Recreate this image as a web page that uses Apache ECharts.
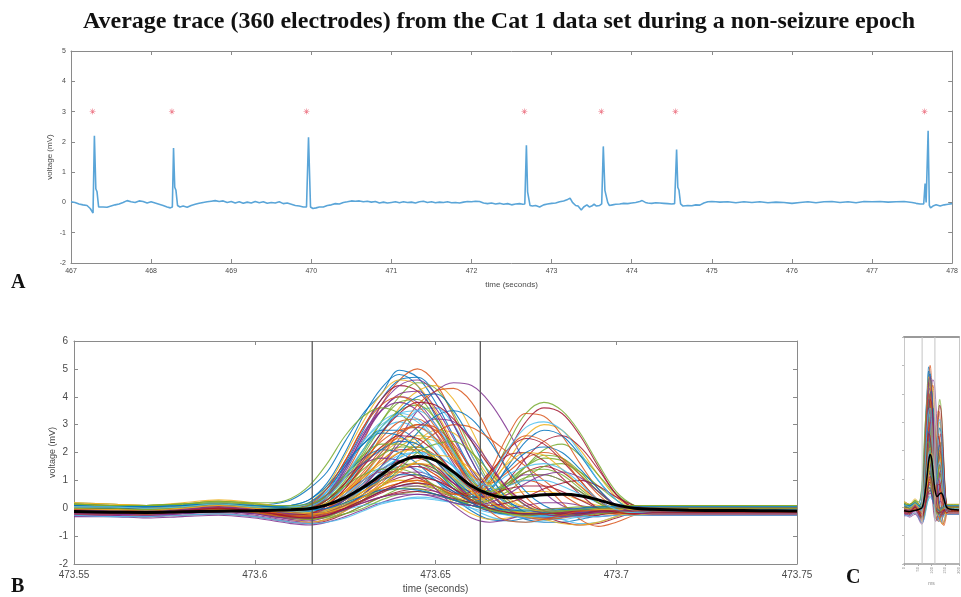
<!DOCTYPE html>
<html>
<head>
<meta charset="utf-8">
<script src="https://cdn.jsdelivr.net/npm/echarts@6/dist/echarts.min.js"></script>
<style>
  html, body { margin: 0; padding: 0; background: #fff; }
  #chart { width: 961px; height: 597px; }
</style>
</head>
<body>
<div id="chart"></div>
<script>
// ---- Panel A: averaged trace over 11 s, [time (s), voltage (mV)] ----
const traceA = [
  [467.00,0.02],[467.05,0.00],[467.10,-0.05],[467.15,-0.08],[467.20,-0.10],[467.24,-0.20],[467.26,-0.25],[467.275,-0.35],
  [467.292,2.20],[467.31,0.45],[467.325,0.35],[467.345,-0.15],[467.40,-0.15],[467.45,-0.16],[467.50,-0.12],[467.55,-0.08],
  [467.60,-0.05],[467.65,0.00],[467.70,0.06],[467.75,0.02],[467.80,0.00],[467.85,0.05],[467.90,0.03],[467.95,-0.02],
  [468.00,0.02],[468.05,-0.02],[468.10,-0.06],[468.15,-0.10],[468.20,-0.15],[468.24,-0.18],[468.265,-0.15],[468.28,1.80],
  [468.295,0.50],[468.31,0.40],[468.33,-0.10],[468.36,-0.15],[468.40,-0.12],[468.45,-0.16],[468.50,-0.10],[468.55,-0.06],
  [468.60,-0.03],[468.65,0.00],[468.70,0.02],[468.75,0.04],[468.80,0.06],[468.85,0.03],[468.90,0.05],[468.95,0.00],
  [469.00,0.03],[469.05,-0.02],[469.10,0.02],[469.15,-0.03],[469.20,0.01],[469.25,-0.02],[469.30,0.03],[469.35,-0.01],
  [469.40,0.02],[469.45,-0.03],[469.50,0.00],[469.55,-0.02],[469.60,0.02],[469.65,-0.04],[469.70,-0.02],[469.75,-0.06],
  [469.80,-0.10],[469.85,-0.12],[469.90,-0.15],[469.94,-0.15],[469.965,2.15],[469.99,-0.15],[470.02,-0.20],[470.06,-0.18],
  [470.10,-0.15],[470.15,-0.15],[470.20,-0.10],[470.25,-0.08],[470.30,-0.04],[470.35,-0.05],[470.40,0.00],[470.45,0.02],
  [470.50,0.05],[470.55,0.04],[470.60,0.05],[470.65,0.02],[470.70,0.04],[470.75,0.01],[470.80,0.03],[470.85,-0.02],
  [470.90,0.01],[470.95,-0.02],[471.00,0.00],[471.05,0.02],[471.10,-0.01],[471.15,0.02],[471.20,0.00],[471.25,0.01],
  [471.30,-0.02],[471.35,0.02],[471.40,0.04],[471.45,0.00],[471.50,0.02],[471.55,-0.01],[471.60,0.01],[471.65,0.00],
  [471.70,0.02],[471.75,-0.01],[471.80,0.00],[471.85,-0.02],[471.90,0.01],[471.95,0.03],[472.00,0.02],[472.05,0.04],
  [472.10,0.03],[472.15,-0.02],[472.20,-0.04],[472.25,-0.02],[472.30,-0.05],[472.35,-0.03],[472.40,-0.06],[472.45,-0.04],
  [472.50,-0.08],[472.55,-0.05],[472.60,-0.04],[472.64,-0.06],[472.665,-0.05],[472.685,1.89],[472.70,0.35],[472.715,0.30],
  [472.73,-0.10],[472.76,-0.12],[472.80,-0.10],[472.85,-0.15],[472.90,-0.08],[472.95,-0.05],[473.00,-0.03],[473.05,-0.02],
  [473.10,0.02],[473.15,0.05],[473.20,0.10],[473.23,0.14],[473.26,0.00],[473.30,-0.10],[473.33,-0.12],[473.37,-0.25],
  [473.40,-0.15],[473.44,-0.08],[473.47,-0.15],[473.50,-0.12],[473.53,-0.06],[473.56,-0.12],[473.60,-0.10],[473.625,-0.05],
  [473.645,1.85],[473.665,0.40],[473.68,0.45],[473.70,0.00],[473.72,-0.10],[473.76,-0.08],[473.80,-0.06],[473.85,-0.05],
  [473.90,-0.03],[473.95,-0.04],[474.00,-0.02],[474.05,0.00],[474.10,0.03],[474.13,0.06],[474.17,0.00],[474.20,-0.02],
  [474.25,-0.03],[474.30,-0.01],[474.35,-0.02],[474.40,-0.03],[474.45,-0.04],[474.50,-0.05],[474.535,-0.04],[474.56,1.75],
  [474.575,0.50],[474.59,0.40],[474.61,-0.05],[474.64,-0.12],[474.70,-0.10],[474.75,-0.11],[474.80,-0.08],[474.85,-0.09],
  [474.90,-0.02],[474.95,0.02],[475.00,0.03],[475.05,0.02],[475.10,0.01],[475.20,0.02],[475.30,-0.01],[475.40,0.02],
  [475.50,0.00],[475.60,0.02],[475.70,-0.01],[475.80,0.01],[475.90,0.00],[476.00,-0.03],[476.10,0.00],[476.20,0.02],
  [476.30,-0.01],[476.40,0.02],[476.50,0.03],[476.60,0.00],[476.70,0.02],[476.80,-0.01],[476.90,0.03],[477.00,0.02],
  [477.10,0.03],[477.20,0.01],[477.30,0.02],[477.40,0.03],[477.50,0.00],[477.55,-0.03],[477.60,-0.05],[477.645,-0.05],
  [477.662,0.62],[477.675,0.00],[477.688,0.00],[477.70,2.37],[477.715,-0.10],[477.73,-0.18],[477.76,-0.12],[477.80,-0.08],
  [477.85,-0.12],[477.90,-0.08],[477.95,-0.06],[478.00,-0.04]
];
// Detected events (red asterisks) shown at 3 mV
const eventTimesA = [467.27, 468.26, 469.94, 472.66, 473.62, 474.545, 477.655];
const eventLevelA = 3;

// ---- Panels B and C: per-electrode traces around one event ----
const timeB = [473.55,473.56,473.57,473.58,473.59,473.60,473.605,473.61,473.615,473.62,473.625,473.63,473.635,473.64,473.645,473.65,
               473.655,473.66,473.665,473.67,473.675,473.68,473.685,473.69,473.695,473.70,473.705,473.71,473.72,473.73,473.74,473.75];
const meanTrace = [-0.12,-0.14,-0.15,-0.13,-0.11,-0.09,-0.07,-0.05,-0.02,0.12,0.38,0.75,1.2,1.65,1.86,1.72,
                   1.3,0.8,0.5,0.38,0.42,0.48,0.5,0.45,0.3,0.12,0.0,-0.04,-0.07,-0.08,-0.09,-0.1];
const windowEdges = [473.6159, 473.6624];
const electrodeTraces = [
  [0.10,0.05,0.00,0.10,0.15,0.10,0.15,0.30,0.70,1.30,2.40,3.40,4.10,4.95,4.70,3.80,2.60,1.40,0.60,0.20,0.00,-0.10,-0.15,-0.15,-0.10,-0.05,0.00,0.05,0.05,0.00,0.00,0.00],
  [-0.05,-0.10,-0.15,-0.05,0.05,-0.05,-0.10,-0.10,0.00,0.40,1.20,2.40,3.70,4.60,5.00,4.50,3.30,1.90,0.80,0.10,-0.20,-0.30,-0.25,-0.20,-0.15,-0.10,-0.05,0.00,0.00,-0.05,-0.05,-0.05],
  [-0.20,-0.20,-0.25,-0.15,-0.10,-0.20,-0.30,-0.35,-0.30,0.00,0.60,1.50,2.60,3.60,4.20,4.40,3.90,2.80,1.50,0.60,0.10,-0.10,-0.20,-0.20,-0.15,-0.10,-0.10,-0.10,-0.10,-0.10,-0.10,-0.10],
  [0.00,-0.05,-0.10,0.00,0.10,0.00,-0.10,-0.20,-0.20,0.00,0.30,0.80,1.50,2.50,3.50,4.20,4.50,4.40,3.80,2.80,1.60,0.60,0.10,-0.10,-0.15,-0.10,-0.05,0.00,0.00,0.00,0.00,0.00],
  [-0.10,-0.15,-0.20,-0.10,0.00,-0.10,-0.20,-0.30,-0.30,-0.10,0.20,0.60,1.10,1.50,1.60,1.30,0.80,0.30,1.00,2.30,3.40,3.80,3.50,2.70,1.60,0.60,0.10,-0.10,-0.10,-0.10,-0.10,-0.10],
  [0.20,0.15,0.10,0.15,0.25,0.15,0.10,0.05,0.10,0.50,1.20,2.10,2.80,3.10,2.80,2.10,1.20,0.50,0.00,-0.20,-0.30,-0.30,-0.20,-0.10,-0.05,0.00,0.05,0.05,0.05,0.05,0.05,0.05],
  [-0.25,-0.25,-0.30,-0.25,-0.20,-0.30,-0.40,-0.50,-0.55,-0.45,-0.20,0.10,0.40,0.60,0.70,0.60,0.40,0.20,0.30,0.80,1.30,1.50,1.30,0.80,0.30,-0.05,-0.20,-0.25,-0.25,-0.25,-0.25,-0.25],
  [0.05,0.00,-0.05,0.05,0.15,0.05,0.00,-0.05,0.10,0.60,1.60,2.80,3.90,4.60,4.70,4.10,3.00,1.70,0.60,-0.10,-0.40,-0.50,-0.50,-0.40,-0.25,-0.10,0.00,0.05,0.05,0.00,0.00,0.00],
  [-0.15,-0.20,-0.20,-0.10,-0.05,-0.15,-0.25,-0.35,-0.40,-0.20,0.20,0.80,1.50,2.00,2.20,1.90,1.30,0.70,0.20,-0.10,-0.20,-0.20,-0.15,-0.10,-0.10,-0.10,-0.10,-0.10,-0.10,-0.10,-0.10,-0.10],
  [0.00,-0.05,-0.10,0.00,0.10,0.00,-0.05,-0.10,-0.05,0.30,0.90,1.60,2.20,2.50,2.30,1.70,1.00,0.50,0.80,1.70,2.60,3.00,2.80,2.10,1.20,0.40,0.00,-0.10,-0.05,-0.05,-0.05,-0.05],
  [-0.10,-0.10,-0.15,-0.05,0.05,-0.05,-0.15,-0.20,-0.10,0.40,1.40,2.60,3.50,4.00,3.80,3.00,1.90,0.90,0.20,-0.20,-0.35,-0.40,-0.30,-0.20,-0.10,-0.05,-0.05,-0.05,-0.05,-0.05,-0.05,-0.05],
  [0.10,0.05,0.00,0.05,0.15,0.05,0.00,-0.10,-0.20,-0.30,-0.20,0.10,0.40,0.70,0.80,0.70,0.40,0.20,0.30,0.80,1.50,2.10,2.30,1.90,1.20,0.50,0.10,0.00,0.00,0.00,0.00,0.00],
  [-0.20,-0.15,-0.15,-0.10,0.00,-0.10,-0.20,-0.30,-0.30,-0.10,0.40,1.10,2.00,2.90,3.50,3.60,3.00,1.90,0.80,0.10,-0.20,-0.30,-0.30,-0.20,-0.15,-0.15,-0.15,-0.15,-0.15,-0.15,-0.15,-0.15],
  [0.15,0.10,0.05,0.10,0.20,0.10,0.05,0.00,-0.10,-0.10,0.10,0.40,0.80,1.10,1.20,1.00,0.60,0.20,-0.10,-0.20,-0.20,-0.30,-0.50,-0.60,-0.55,-0.35,-0.15,0.00,0.05,0.05,0.05,0.05],
  [-0.05,-0.05,-0.10,0.00,0.10,0.05,0.05,0.10,0.30,0.90,2.00,3.30,4.30,4.80,4.40,3.30,2.00,0.90,0.20,-0.15,-0.25,-0.25,-0.15,-0.10,-0.05,-0.05,-0.05,-0.05,-0.05,-0.05,-0.05,-0.05],
  [-0.20,-0.20,-0.25,-0.15,-0.05,-0.15,-0.25,-0.35,-0.40,-0.30,0.00,0.50,1.00,1.40,1.50,1.20,0.70,0.40,1.30,2.60,3.40,3.30,2.60,1.60,0.70,0.10,-0.15,-0.20,-0.20,-0.20,-0.20,-0.20],
  [0.00,0.00,-0.05,0.05,0.15,0.05,-0.05,-0.15,-0.20,-0.15,0.10,0.50,1.10,1.80,2.40,2.80,2.70,2.00,1.10,0.40,0.00,-0.20,-0.30,-0.25,-0.15,-0.05,0.00,0.00,0.00,0.00,0.00,0.00],
  [-0.30,-0.30,-0.35,-0.30,-0.25,-0.35,-0.45,-0.55,-0.60,-0.50,-0.30,-0.05,0.20,0.40,0.50,0.45,0.30,0.10,-0.10,-0.20,-0.20,-0.20,-0.25,-0.30,-0.30,-0.25,-0.25,-0.25,-0.25,-0.25,-0.25,-0.25],
  [0.10,0.05,0.05,0.10,0.20,0.10,0.05,0.00,0.05,0.40,1.10,2.10,3.10,3.80,3.90,3.20,2.10,1.00,0.60,1.00,1.50,1.80,1.70,1.20,0.60,0.10,-0.10,-0.10,-0.05,0.00,0.00,0.00],
  [-0.10,-0.10,-0.15,-0.05,0.05,-0.05,-0.15,-0.25,-0.30,-0.10,0.30,0.90,1.40,1.70,1.80,1.50,1.00,0.40,0.00,-0.20,-0.20,-0.25,-0.40,-0.55,-0.50,-0.30,-0.15,-0.10,-0.10,-0.10,-0.10,-0.10],
  [0.05,0.00,0.00,0.05,0.15,0.05,0.00,0.00,0.15,0.70,1.70,2.90,3.90,4.40,4.20,3.40,2.20,1.10,0.30,-0.10,-0.25,-0.25,-0.20,-0.10,-0.05,0.00,0.00,0.00,0.00,0.00,0.00,0.00],
  [-0.15,-0.15,-0.20,-0.10,0.00,-0.10,-0.20,-0.30,-0.35,-0.25,0.00,0.30,0.60,0.80,0.90,0.70,0.40,0.20,0.60,1.50,2.40,2.80,2.60,1.90,1.00,0.30,-0.10,-0.15,-0.15,-0.15,-0.15,-0.15],
  [-0.05,-0.10,-0.10,0.00,0.10,0.00,-0.10,-0.20,-0.20,0.10,0.70,1.60,2.50,3.10,3.20,2.70,1.80,0.90,0.30,-0.05,-0.20,-0.25,-0.20,-0.15,-0.10,-0.10,-0.10,-0.10,-0.05,-0.05,-0.05,-0.05],
  [0.20,0.15,0.10,0.20,0.30,0.20,0.10,0.00,0.00,0.20,0.60,1.20,1.90,2.40,2.60,2.50,2.00,1.20,0.50,0.10,-0.05,-0.10,-0.10,-0.05,0.00,0.05,0.10,0.10,0.10,0.10,0.10,0.10],
  [-0.25,-0.25,-0.30,-0.20,-0.15,-0.25,-0.35,-0.45,-0.50,-0.40,-0.10,0.30,0.80,1.20,1.30,1.10,0.70,0.40,0.50,0.90,1.20,1.20,1.00,0.60,0.20,-0.10,-0.20,-0.20,-0.20,-0.20,-0.20,-0.20],
  [0.00,-0.05,-0.05,0.05,0.15,0.05,-0.05,-0.10,-0.05,0.30,1.00,2.00,3.10,4.00,4.50,4.30,3.40,2.10,0.90,0.20,-0.15,-0.25,-0.25,-0.15,-0.10,-0.05,-0.05,-0.05,0.00,0.00,0.00,0.00],
  [0.05,0.05,0.00,0.05,0.10,0.05,0.00,-0.10,-0.15,-0.15,-0.05,0.10,0.20,0.30,0.35,0.30,0.20,0.10,0.00,-0.05,-0.05,-0.05,-0.05,-0.05,0.00,0.00,0.00,0.00,0.00,0.00,0.00,0.00],
  [0.00,0.00,-0.05,0.05,0.15,0.05,-0.05,-0.10,-0.10,0.10,0.50,1.10,1.70,2.10,2.10,1.70,1.00,0.40,0.90,2.00,3.10,3.60,3.40,2.60,1.50,0.50,0.00,-0.10,-0.05,-0.05,-0.05,-0.05],
  [-0.10,-0.10,-0.10,-0.05,0.05,0.00,-0.05,-0.10,0.00,0.50,1.20,1.80,2.10,2.00,1.60,1.00,0.40,-0.10,-0.40,-0.45,-0.35,-0.25,-0.15,-0.10,-0.05,-0.05,-0.05,-0.05,-0.05,-0.05,-0.05,-0.05],
  [0.05,0.00,0.00,0.05,0.15,0.05,0.00,-0.05,-0.05,0.20,0.60,1.30,2.10,2.70,3.00,2.80,2.10,1.20,0.90,1.30,1.80,2.00,1.80,1.20,0.50,0.00,-0.20,-0.15,-0.10,-0.05,-0.05,-0.05],
  [-0.20,-0.20,-0.25,-0.15,-0.05,-0.15,-0.25,-0.40,-0.50,-0.40,-0.10,0.30,0.70,0.90,1.00,0.70,0.20,-0.20,-0.40,-0.35,-0.20,-0.10,-0.10,-0.15,-0.20,-0.20,-0.20,-0.20,-0.20,-0.20,-0.20,-0.20],
  [-0.10,-0.10,-0.15,-0.05,0.05,-0.05,-0.10,-0.15,-0.05,0.40,1.30,2.50,3.50,4.10,4.20,3.60,2.50,1.30,0.40,-0.10,-0.30,-0.35,-0.30,-0.20,-0.10,-0.05,-0.05,-0.05,-0.05,-0.05,-0.05,-0.05],
  [0.15,0.10,0.10,0.15,0.25,0.15,0.05,-0.05,-0.10,-0.05,0.15,0.40,0.60,0.70,0.70,0.50,0.30,0.20,0.30,0.60,1.10,1.50,1.60,1.30,0.80,0.30,0.00,0.00,0.05,0.05,0.05,0.05],
  [0.00,-0.05,-0.05,0.00,0.10,0.00,-0.05,-0.05,0.10,0.60,1.40,2.40,3.10,3.40,3.20,2.50,1.50,0.60,0.00,-0.25,-0.35,-0.35,-0.25,-0.15,-0.05,0.00,0.00,0.00,0.00,0.00,0.00,0.00],
  [-0.05,-0.10,-0.10,-0.05,0.05,-0.05,-0.15,-0.20,-0.25,-0.10,0.20,0.60,1.10,1.40,1.60,1.40,0.90,0.60,1.20,2.10,2.50,2.30,1.70,1.00,0.30,-0.10,-0.20,-0.15,-0.10,-0.10,-0.10,-0.10],
  [0.10,0.05,0.05,0.10,0.20,0.10,0.05,0.00,0.00,0.30,0.90,1.60,2.10,2.40,2.30,1.80,1.10,0.50,0.10,-0.10,-0.15,-0.15,-0.10,-0.05,0.00,0.05,0.05,0.05,0.05,0.05,0.05,0.05],
  [-0.15,-0.15,-0.20,-0.10,0.00,-0.10,-0.20,-0.30,-0.30,-0.15,0.20,0.70,1.20,1.50,1.50,1.20,0.70,0.30,0.40,0.80,1.00,0.80,0.20,-0.40,-0.65,-0.50,-0.25,-0.10,-0.10,-0.10,-0.10,-0.10],
  [0.05,0.05,0.00,0.10,0.20,0.10,0.05,0.05,0.20,0.80,1.90,3.10,4.10,4.60,4.40,3.50,2.30,1.10,0.30,-0.10,-0.20,-0.20,-0.15,-0.10,-0.05,0.00,0.00,0.00,0.00,0.00,0.00,0.00],
  [-0.05,-0.05,-0.10,0.00,0.05,-0.05,-0.15,-0.25,-0.30,-0.20,0.00,0.30,0.60,0.80,0.80,0.60,0.30,0.10,0.00,0.00,0.10,0.20,0.20,0.10,0.00,-0.05,-0.05,-0.05,-0.05,-0.05,-0.05,-0.05],
  [-0.15,-0.15,-0.20,-0.10,0.00,-0.10,-0.20,-0.25,-0.20,0.20,0.90,1.90,2.90,3.50,3.70,3.20,2.10,1.00,0.50,0.80,1.10,1.20,1.00,0.60,0.20,-0.05,-0.15,-0.15,-0.15,-0.15,-0.15,-0.15],
  [0.10,0.05,0.05,0.10,0.15,0.05,0.00,-0.10,-0.15,-0.05,0.30,0.80,1.20,1.50,1.40,1.00,0.50,0.00,-0.30,-0.45,-0.50,-0.45,-0.30,-0.15,-0.05,0.00,0.05,0.05,0.05,0.05,0.05,0.05],
  [-0.20,-0.20,-0.20,-0.15,-0.05,-0.15,-0.25,-0.30,-0.30,-0.10,0.30,0.90,1.40,1.70,1.80,1.50,0.90,0.40,0.40,1.00,1.80,2.40,2.60,2.20,1.40,0.50,0.00,-0.15,-0.15,-0.15,-0.15,-0.15],
  [0.05,0.00,0.00,0.05,0.15,0.05,0.00,0.05,0.20,0.70,1.50,2.30,2.80,2.80,2.40,1.70,1.00,0.40,0.00,-0.15,-0.20,-0.15,-0.10,-0.05,0.00,0.00,0.00,0.00,0.00,0.00,0.00,0.00],
  [-0.10,-0.10,-0.15,-0.05,0.05,-0.05,-0.15,-0.20,-0.20,0.00,0.40,1.00,1.80,2.80,3.70,4.20,4.30,3.80,2.60,1.30,0.40,-0.10,-0.30,-0.30,-0.20,-0.10,-0.05,-0.05,-0.05,-0.05,-0.05,-0.05],
  [0.20,0.15,0.10,0.15,0.25,0.15,0.10,0.05,0.00,0.10,0.30,0.60,0.90,1.00,0.90,0.70,0.40,0.30,0.40,0.50,0.60,0.60,0.50,0.30,0.10,0.05,0.10,0.10,0.10,0.10,0.10,0.10],
  [-0.05,-0.05,-0.10,0.00,0.10,0.00,-0.05,-0.10,0.00,0.50,1.50,2.70,3.50,3.80,3.50,2.70,1.60,0.70,0.10,-0.20,-0.30,-0.30,-0.20,-0.10,-0.05,-0.05,-0.05,-0.05,-0.05,-0.05,-0.05,-0.05],
  [-0.10,-0.10,-0.15,-0.05,0.05,-0.05,-0.15,-0.25,-0.35,-0.35,-0.20,0.00,0.30,0.50,0.60,0.50,0.30,0.10,0.30,0.90,1.50,1.90,1.80,1.30,0.60,0.10,-0.10,-0.10,-0.10,-0.10,-0.10,-0.10],
  [0.00,-0.05,-0.05,0.00,0.10,0.00,-0.10,-0.20,-0.25,-0.10,0.20,0.70,1.30,1.80,2.00,1.90,1.50,0.90,0.30,-0.10,-0.30,-0.40,-0.40,-0.30,-0.15,-0.05,0.00,0.00,0.00,0.00,0.00,0.00],
  [0.05,0.05,0.00,0.05,0.15,0.05,0.00,-0.05,-0.05,0.20,0.60,1.00,1.30,1.30,1.10,0.80,0.50,0.60,1.30,1.90,2.00,1.70,1.10,0.50,0.00,-0.20,-0.20,-0.10,-0.05,-0.05,-0.05,-0.05],
  [0.00,-0.05,-0.10,0.00,0.10,0.00,-0.10,-0.20,-0.25,-0.15,0.10,0.50,1.10,1.90,2.70,3.30,3.50,3.20,2.40,1.40,0.60,0.10,-0.15,-0.20,-0.15,-0.10,-0.05,-0.05,-0.05,-0.05,-0.05,-0.05],
  [-0.10,-0.10,-0.15,-0.05,0.05,-0.05,-0.15,-0.25,-0.30,-0.20,0.00,0.40,0.90,1.50,2.20,2.70,3.00,2.90,2.50,2.00,1.50,1.00,0.50,0.10,-0.15,-0.20,-0.15,-0.10,-0.10,-0.10,-0.10,-0.10],
  [0.10,0.05,0.00,0.10,0.20,0.10,0.00,-0.05,0.00,0.20,0.60,1.10,1.70,2.20,2.50,2.40,1.90,1.20,0.50,0.00,-0.25,-0.35,-0.30,-0.20,-0.10,0.00,0.05,0.05,0.05,0.05,0.05,0.05],
  [-0.20,-0.20,-0.25,-0.20,-0.10,-0.20,-0.30,-0.40,-0.45,-0.30,0.00,0.50,1.00,1.40,1.50,1.30,0.90,0.40,0.00,-0.20,-0.25,-0.20,-0.15,-0.15,-0.15,-0.15,-0.15,-0.15,-0.15,-0.15,-0.15,-0.15],
  [0.15,0.10,0.10,0.15,0.25,0.20,0.20,0.35,0.80,1.60,2.60,3.30,3.60,3.40,2.80,2.00,1.10,0.40,0.00,-0.20,-0.25,-0.20,-0.10,-0.05,0.00,0.05,0.05,0.05,0.05,0.05,0.05,0.05],
  [0.00,0.00,-0.05,0.05,0.10,0.00,-0.05,-0.10,-0.10,0.10,0.40,0.90,1.40,1.80,2.00,1.90,1.50,1.00,0.70,0.80,1.00,1.00,0.80,0.50,0.20,0.00,-0.05,-0.05,-0.05,-0.05,-0.05,-0.05],
  [-0.10,-0.15,-0.15,-0.10,0.00,-0.10,-0.20,-0.30,-0.35,-0.25,-0.05,0.25,0.55,0.80,0.90,0.80,0.55,0.25,0.00,-0.15,-0.20,-0.20,-0.25,-0.30,-0.25,-0.15,-0.10,-0.10,-0.10,-0.10,-0.10,-0.10],
  [-0.05,-0.05,-0.10,0.00,0.10,0.00,-0.10,-0.15,-0.10,0.20,0.80,1.70,2.70,3.50,4.00,4.10,3.50,2.40,1.20,0.30,-0.15,-0.30,-0.30,-0.20,-0.10,-0.05,-0.05,-0.05,-0.05,-0.05,-0.05,-0.05],
  [0.05,0.05,0.00,0.05,0.15,0.05,0.00,-0.05,0.00,0.30,0.90,1.70,2.40,2.80,2.90,2.50,1.70,0.90,0.30,-0.05,-0.20,-0.20,-0.15,-0.10,-0.05,0.00,0.00,0.00,0.00,0.00,0.00,0.00],
  [-0.15,-0.15,-0.20,-0.10,0.00,-0.10,-0.20,-0.25,-0.25,-0.10,0.20,0.50,0.80,1.00,1.00,0.80,0.50,0.40,0.90,1.60,2.00,1.90,1.40,0.80,0.20,-0.15,-0.25,-0.20,-0.15,-0.15,-0.15,-0.15],
  [0.05,0.00,0.00,0.05,0.10,0.05,0.00,0.00,0.10,0.50,1.10,1.60,1.80,1.70,1.30,0.70,0.10,-0.35,-0.50,-0.40,-0.20,-0.05,0.00,0.00,0.00,0.00,0.00,0.00,0.00,0.00,0.00,0.00],
  [-0.15,-0.15,-0.20,-0.10,-0.05,-0.15,-0.25,-0.35,-0.40,-0.30,-0.05,0.30,0.80,1.40,2.00,2.30,2.40,2.00,1.30,0.60,0.10,-0.15,-0.25,-0.25,-0.20,-0.15,-0.15,-0.15,-0.15,-0.15,-0.15,-0.15],
  [0.10,0.05,0.05,0.10,0.20,0.10,0.05,0.05,0.15,0.60,1.40,2.40,3.00,3.30,3.10,2.40,1.50,0.70,0.10,-0.20,-0.30,-0.25,-0.15,-0.05,0.00,0.05,0.05,0.05,0.05,0.05,0.05,0.05],
  [0.00,0.00,-0.05,0.00,0.10,0.00,-0.05,-0.15,-0.20,-0.15,0.00,0.20,0.40,0.55,0.60,0.50,0.35,0.20,0.10,0.20,0.40,0.70,0.90,1.00,0.80,0.40,0.10,0.00,0.00,0.00,0.00,0.00],
  [0.10,0.05,0.05,0.10,0.15,0.05,0.00,-0.05,-0.10,0.00,0.30,0.70,1.00,1.20,1.20,1.00,0.60,0.40,0.70,1.40,2.00,2.20,2.00,1.40,0.70,0.10,-0.10,-0.05,0.00,0.00,0.00,0.00],
  [-0.20,-0.20,-0.20,-0.15,-0.05,-0.15,-0.25,-0.30,-0.25,0.00,0.50,1.20,2.00,2.60,3.00,2.90,2.30,1.40,0.60,0.00,-0.30,-0.40,-0.35,-0.25,-0.15,-0.10,-0.10,-0.10,-0.10,-0.10,-0.10,-0.10],
  [0.00,-0.05,-0.05,0.00,0.10,0.00,-0.05,-0.10,-0.15,-0.05,0.20,0.60,1.00,1.40,1.60,1.50,1.10,0.60,0.20,-0.05,-0.15,-0.15,-0.10,-0.05,-0.05,-0.05,-0.05,-0.05,-0.05,-0.05,-0.05,-0.05],
  [-0.10,-0.10,-0.10,-0.05,0.05,-0.05,-0.10,-0.10,0.05,0.50,1.40,2.60,3.70,4.40,4.60,4.10,3.00,1.70,0.60,-0.05,-0.30,-0.35,-0.25,-0.15,-0.10,-0.05,-0.05,-0.05,-0.05,-0.05,-0.05,-0.05],
  [0.05,0.05,0.00,0.05,0.15,0.05,0.00,0.00,0.05,0.30,0.80,1.40,1.90,2.20,2.20,1.80,1.20,0.70,0.60,0.90,1.30,1.40,1.20,0.70,0.20,-0.10,-0.15,-0.10,-0.05,-0.05,-0.05,-0.05],
  [-0.25,-0.30,-0.30,-0.25,-0.20,-0.30,-0.40,-0.50,-0.55,-0.50,-0.35,-0.10,0.15,0.30,0.40,0.35,0.20,0.00,-0.15,-0.25,-0.30,-0.30,-0.30,-0.30,-0.30,-0.25,-0.25,-0.25,-0.25,-0.25,-0.25,-0.25],
  [0.00,0.00,-0.05,0.05,0.15,0.05,0.00,-0.05,0.00,0.30,0.90,1.80,2.70,3.40,3.80,3.70,3.20,2.40,1.50,0.70,0.20,-0.10,-0.20,-0.20,-0.10,-0.05,0.00,0.00,0.00,0.00,0.00,0.00],
  [0.05,0.00,0.00,0.05,0.10,0.05,0.05,0.10,0.30,0.80,1.60,2.30,2.70,2.60,2.10,1.40,0.70,0.20,-0.10,-0.20,-0.20,-0.15,-0.10,-0.05,-0.05,-0.05,-0.05,-0.05,-0.05,-0.05,-0.05,-0.05],
  [-0.10,-0.10,-0.15,-0.05,0.05,-0.05,-0.15,-0.20,-0.25,-0.15,0.10,0.40,0.70,0.90,1.00,0.80,0.50,0.50,1.20,2.10,2.60,2.40,1.80,1.00,0.30,-0.10,-0.20,-0.15,-0.10,-0.10,-0.10,-0.10],
  [0.05,0.05,0.00,0.05,0.15,0.05,0.00,-0.05,-0.05,0.20,0.60,1.10,1.60,2.00,2.10,1.80,1.20,0.60,0.10,-0.20,-0.30,-0.40,-0.55,-0.60,-0.50,-0.30,-0.10,0.00,0.00,0.00,0.00,0.00],
  [-0.05,-0.10,-0.10,-0.05,0.05,-0.05,-0.10,-0.20,-0.20,0.00,0.30,0.80,1.50,2.30,2.90,3.20,3.10,2.50,1.60,0.70,0.10,-0.20,-0.30,-0.25,-0.15,-0.10,-0.05,-0.05,-0.05,-0.05,-0.05,-0.05],
  [0.15,0.10,0.10,0.15,0.20,0.15,0.10,0.10,0.15,0.40,0.80,1.20,1.40,1.40,1.20,0.80,0.40,0.10,-0.05,-0.10,-0.10,-0.05,0.00,0.05,0.05,0.10,0.10,0.10,0.10,0.10,0.10,0.10],
  [-0.05,-0.05,-0.10,0.00,0.10,0.00,-0.05,-0.10,-0.10,0.10,0.50,1.00,1.50,1.90,2.00,1.70,1.20,0.70,1.10,2.10,2.90,3.10,2.80,2.00,1.00,0.30,-0.10,-0.15,-0.10,-0.05,-0.05,-0.05],
  [-0.15,-0.15,-0.20,-0.10,0.00,-0.10,-0.20,-0.25,-0.20,0.10,0.70,1.50,2.20,2.60,2.50,2.00,1.30,0.70,0.50,0.70,0.80,0.80,0.60,0.30,0.00,-0.15,-0.20,-0.15,-0.15,-0.15,-0.15,-0.15],
  [0.10,0.05,0.05,0.10,0.15,0.10,0.05,0.00,-0.05,0.00,0.20,0.45,0.65,0.70,0.65,0.50,0.30,0.10,0.00,-0.05,-0.10,-0.10,-0.05,0.00,0.05,0.05,0.05,0.05,0.05,0.05,0.05,0.05],
  [-0.05,-0.05,-0.10,0.00,0.10,0.00,-0.05,-0.05,0.10,0.70,1.70,2.90,3.70,4.00,3.70,2.90,1.80,0.70,-0.10,-0.45,-0.50,-0.40,-0.25,-0.10,-0.05,0.00,0.00,0.00,0.00,0.00,0.00,0.00],
  [0.00,-0.05,-0.05,0.00,0.10,0.00,-0.10,-0.15,-0.20,-0.15,0.05,0.40,0.80,1.30,1.70,1.90,1.80,1.40,0.80,0.30,0.00,-0.10,-0.10,-0.10,-0.05,-0.05,-0.05,-0.05,-0.05,-0.05,-0.05,-0.05],
  [-0.20,-0.20,-0.25,-0.15,-0.10,-0.20,-0.30,-0.35,-0.35,-0.25,-0.05,0.20,0.40,0.50,0.50,0.40,0.20,0.10,0.20,0.50,0.90,1.20,1.30,1.10,0.60,0.10,-0.15,-0.20,-0.20,-0.20,-0.20,-0.20],
  [0.00,0.00,-0.05,0.05,0.15,0.05,0.00,0.00,0.10,0.50,1.20,1.90,2.30,2.30,2.00,1.40,0.80,0.30,-0.05,-0.20,-0.25,-0.20,-0.10,-0.05,0.00,0.00,0.00,0.00,0.00,0.00,0.00,0.00],
  [0.05,0.05,0.00,0.05,0.15,0.05,0.00,-0.05,0.05,0.40,1.10,2.10,2.90,3.40,3.50,3.00,2.00,1.10,0.80,1.20,1.50,1.60,1.40,0.90,0.30,-0.05,-0.15,-0.10,-0.05,-0.05,-0.05,-0.05],
  [-0.10,-0.15,-0.15,-0.10,0.00,-0.10,-0.20,-0.30,-0.35,-0.25,0.00,0.30,0.60,0.90,1.10,1.00,0.70,0.30,0.00,-0.15,-0.20,-0.20,-0.15,-0.10,-0.10,-0.10,-0.10,-0.10,-0.10,-0.10,-0.10,-0.10]
];
// MATLAB default line colour order
const lineColors = ['#0072BD','#D95319','#EDB120','#7E2F8E','#77AC30','#4DBEEE','#A2142F'];

const chart = echarts.init(document.getElementById('chart'), null, { renderer: 'canvas' });

const frameColor = '#8a8a8a';
const labelColor = '#4a4a4a';
const asterisk = 'path://M4.5 0h1v10h-1zM0 4.5h10v1h-10zM1.2 1.9L1.9 1.2L8.8 8.1L8.1 8.8zM8.1 1.2L8.8 1.9L1.9 8.8L1.2 8.1z';

function boxAxis(gridIndex, pos, min, max, interval, opts) {
  const base = {
    type: 'value', gridIndex, position: pos, min, max, interval,
    nameMoveOverlap: false,
    axisLine: { show: true, onZero: false, lineStyle: { color: frameColor, width: 1 } },
    axisTick: { show: true, inside: true, length: 4, lineStyle: { color: frameColor } },
    axisLabel: { show: false },
    splitLine: { show: false }
  };
  return Object.assign(base, opts || {});
}

const series = [];

// Panel A trace and event markers
series.push({
  type: 'line', xAxisIndex: 0, yAxisIndex: 0, data: traceA,
  showSymbol: false, smooth: false, silent: true,
  lineStyle: { color: '#5aa5d8', width: 1.6 }, z: 3
});
series.push({
  type: 'scatter', xAxisIndex: 0, yAxisIndex: 0,
  data: eventTimesA.map(t => [t, eventLevelA]),
  symbol: asterisk, symbolSize: 6, silent: true,
  itemStyle: { color: '#e8596b' }, z: 4
});

// Panels B (axes 2) and C (axes 4): individual electrodes, window edges, mean
[[2, 2, 1.1, 0.85], [4, 4, 0.9, 0.8]].forEach(([xi, yi, w, op]) => {
  electrodeTraces.forEach((tr, k) => {
    series.push({
      type: 'line', xAxisIndex: xi, yAxisIndex: yi,
      data: timeB.map((t, i) => [t, tr[i]]),
      showSymbol: false, smooth: 0.35, silent: true,
      lineStyle: { color: lineColors[k % lineColors.length], width: w, opacity: op }, z: 2
    });
  });
  windowEdges.forEach(t => {
    series.push({
      type: 'line', xAxisIndex: xi, yAxisIndex: yi,
      data: [[t, -2], [t, 6]], showSymbol: false, silent: true,
      lineStyle: { color: xi === 2 ? '#5a5a5a' : '#c4c4c4', width: xi === 2 ? 1.3 : 1 }, z: 3
    });
  });
  series.push({
    type: 'line', xAxisIndex: xi, yAxisIndex: yi,
    data: timeB.map((t, i) => [t, meanTrace[i]]),
    showSymbol: false, smooth: 0.35, silent: true,
    lineStyle: { color: '#000', width: xi === 2 ? 3 : 1.5 }, z: 5
  });
});

const option = {
  animation: false,
  backgroundColor: '#fff',
  grid: [
    { left: 71, right: 6, top: 51, bottom: 334 },
    { left: 74, right: 164, top: 341, bottom: 33 },
    { left: 904, right: 2, top: 337, bottom: 33 }
  ],
  xAxis: [
    boxAxis(0, 'bottom', 467, 478, 1, {
      axisLabel: { show: true, color: labelColor, fontSize: 7, margin: 5, fontFamily: 'Liberation Sans' },
      name: 'time (seconds)', nameLocation: 'middle', nameGap: 18,
      nameTextStyle: { color: labelColor, fontSize: 8, fontFamily: 'Liberation Sans' }
    }),
    boxAxis(0, 'top', 467, 478, 1),
    boxAxis(1, 'bottom', 473.55, 473.75, 0.05, {
      axisLabel: { show: true, color: labelColor, fontSize: 10, margin: 6, fontFamily: 'Liberation Sans' },
      name: 'time (seconds)', nameLocation: 'middle', nameGap: 20,
      nameTextStyle: { color: labelColor, fontSize: 10, fontFamily: 'Liberation Sans' }
    }),
    boxAxis(1, 'top', 473.55, 473.75, 0.05),
    boxAxis(2, 'bottom', 473.55, 473.75, 0.05, {
      axisLine: { show: true, onZero: false, lineStyle: { color: '#9a9a9a', width: 1.5 } },
      axisTick: { show: true, inside: false, length: 2, lineStyle: { color: '#aaa' } },
      axisLabel: { show: true, color: '#888', fontSize: 4, margin: 3, rotate: 90,
        formatter: v => String(Math.round((v - 473.55) * 1000)) },
      name: 'ms', nameLocation: 'middle', nameGap: 17,
      nameTextStyle: { color: '#888', fontSize: 5 }
    }),
    boxAxis(2, 'top', 473.55, 473.75, 0.05, {
      axisLine: { show: true, onZero: false, lineStyle: { color: '#9a9a9a', width: 2 } },
      axisTick: { show: false }
    })
  ],
  yAxis: [
    boxAxis(0, 'left', -2, 5, 1, {
      axisLabel: { show: true, color: labelColor, fontSize: 7, margin: 5, fontFamily: 'Liberation Sans' },
      name: 'voltage (mV)', nameLocation: 'middle', nameGap: 17,
      nameTextStyle: { color: labelColor, fontSize: 8, fontFamily: 'Liberation Sans' }
    }),
    boxAxis(0, 'right', -2, 5, 1),
    boxAxis(1, 'left', -2, 6, 1, {
      axisLabel: { show: true, color: labelColor, fontSize: 10, margin: 6, fontFamily: 'Liberation Sans' },
      name: 'voltage (mV)', nameLocation: 'middle', nameGap: 17,
      nameTextStyle: { color: labelColor, fontSize: 9, fontFamily: 'Liberation Sans' }
    }),
    boxAxis(1, 'right', -2, 6, 1),
    boxAxis(2, 'left', -2, 6, 1, {
      axisLine: { show: true, onZero: false, lineStyle: { color: '#c8c8c8', width: 1 } },
      axisTick: { show: true, inside: false, length: 2, lineStyle: { color: '#bbb' } }
    }),
    boxAxis(2, 'right', -2, 6, 1, {
      axisLine: { show: true, onZero: false, lineStyle: { color: '#c8c8c8', width: 1 } },
      axisTick: { show: false }
    })
  ],
  graphic: [
    { type: 'text', left: 83, top: 10, style: {
      text: 'Average trace (360 electrodes) from the Cat 1 data set during a non-seizure epoch',
      font: 'bold 24px "Liberation Serif"', fill: '#111' } },
    { type: 'text', left: 11, top: 273, style: { text: 'A', font: 'bold 20px "Liberation Serif"', fill: '#111' } },
    { type: 'text', left: 11, top: 577, style: { text: 'B', font: 'bold 20px "Liberation Serif"', fill: '#111' } },
    { type: 'text', left: 846, top: 568, style: { text: 'C', font: 'bold 20px "Liberation Serif"', fill: '#111' } }
  ],
  series
};
chart.setOption(option);
</script>
</body>
</html>
